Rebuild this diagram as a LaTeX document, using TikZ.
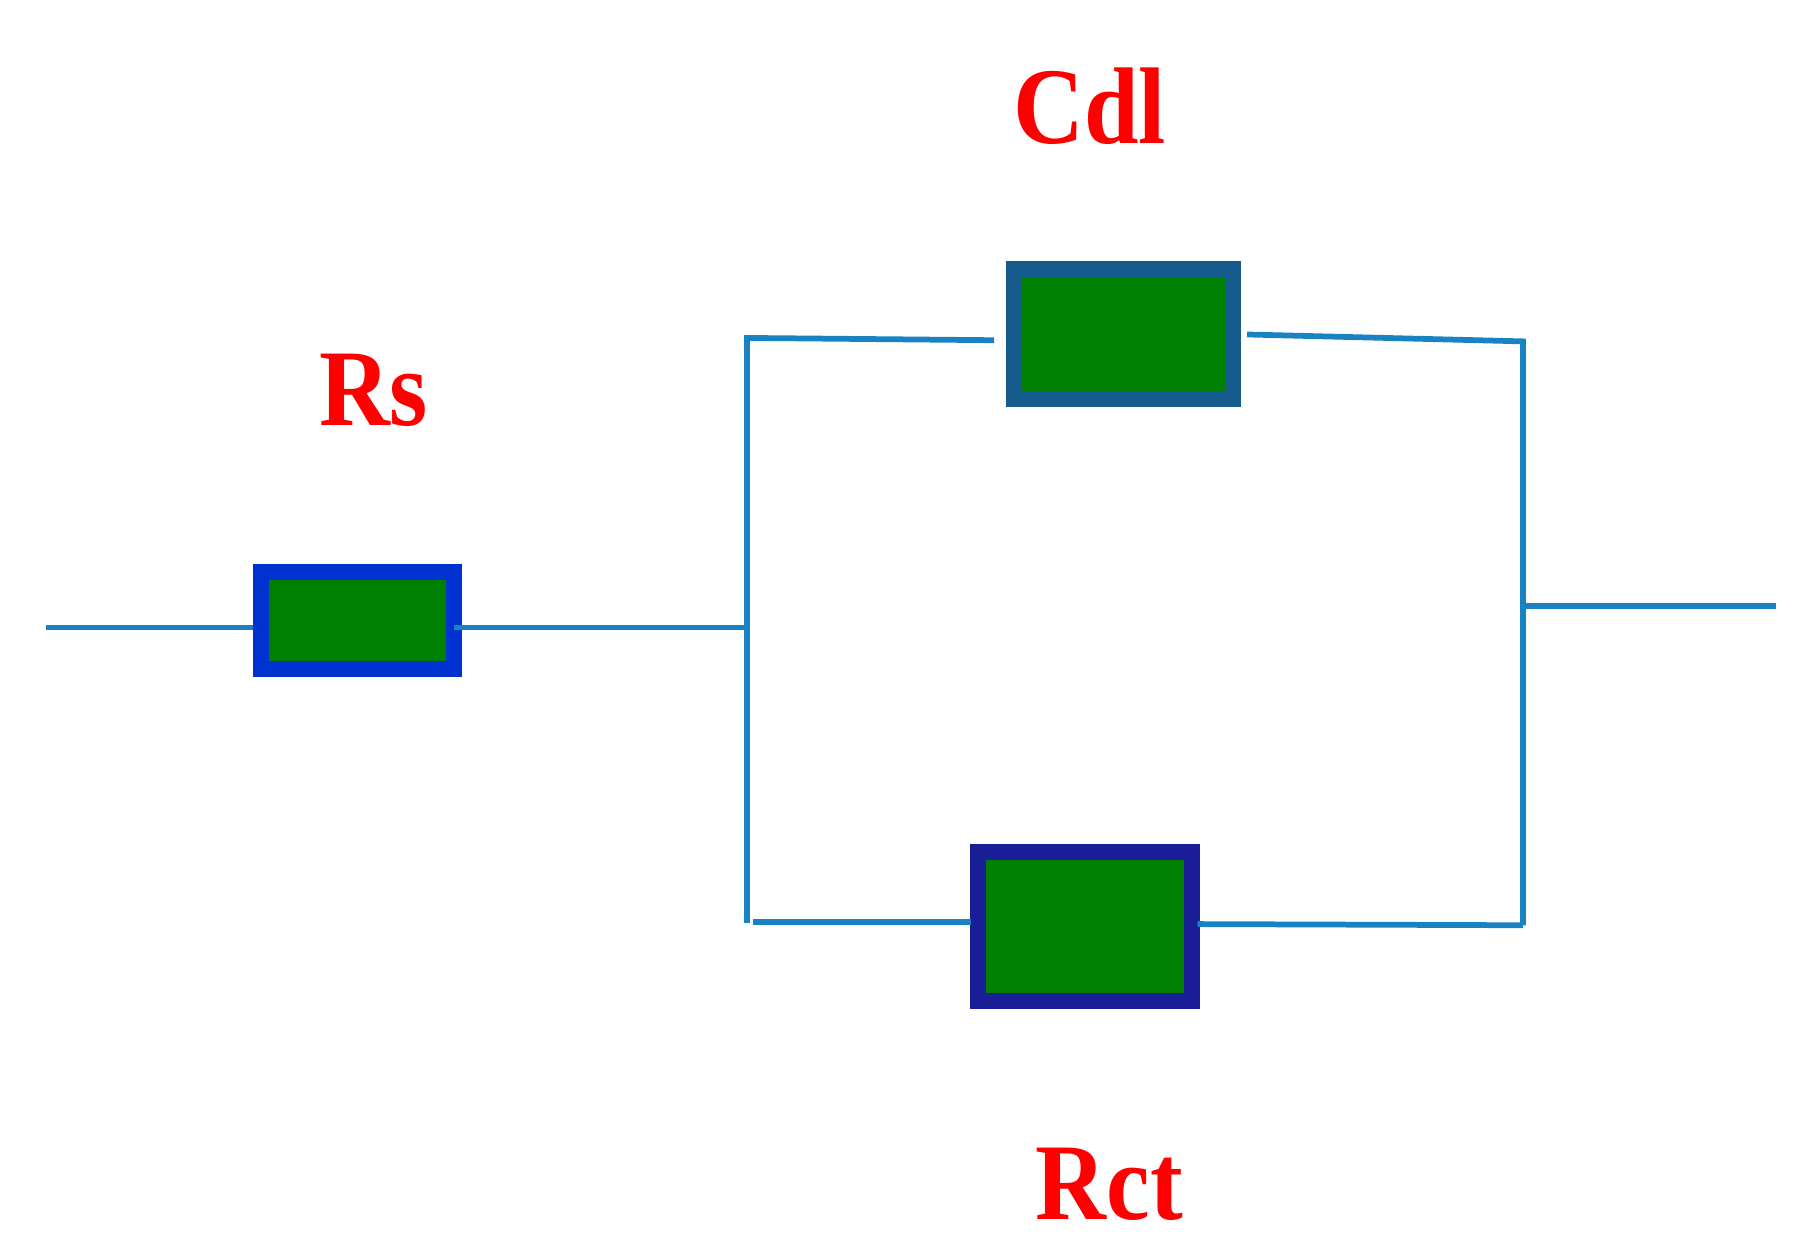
\documentclass[tikz,border=0pt]{standalone}
\usepackage{fontspec}
\setmainfont{Liberation Serif}
\begin{document}
\begin{tikzpicture}[x=0.02cm,y=-0.02cm,
  wire/.style={draw={rgb,255:red,25;green,130;blue,195},line width=0.1cm},
  comp/.style={rectangle,fill={rgb,255:red,0;green,128;blue,0},line width=0.28cm,inner sep=0pt},
  lbl/.style={text={rgb,255:red,255;green,0;blue,0},font=\bfseries\fontsize{54}{54}\selectfont,xscale=0.9}]
\useasboundingbox (0,0) rectangle (1560,1090);
\node[comp,draw={rgb,255:red,0;green,50;blue,210},minimum width=3.36cm,minimum height=1.68cm] (rs) at (311,540) {};
\node[comp,draw={rgb,255:red,20;green,90;blue,140},minimum width=3.82cm,minimum height=2.26cm] (cdl) at (977.5,290.5) {};
\node[comp,draw={rgb,255:red,25;green,30;blue,150},minimum width=3.72cm,minimum height=2.6cm] (rct) at (944,806) {};
\node[lbl] (lcdl) at (948,92) {Cdl};
\node[lbl] (lrs) at (325,340) {Rs};
\node[lbl] (lrct) at (965,1030) {Rct};
\coordinate (in) at (40,546);
\coordinate (out) at (1545,527);
\coordinate (a) at (650,546);
\coordinate (lt) at (650,294);
\coordinate (lb) at (650,803);
\coordinate (rt) at (1325,297);
\coordinate (rb) at (1325,805);
\coordinate (rm) at (1325,527);
\draw[wire] (in) -- (220,546);
\draw[wire] (395,546) -- (a);
\draw[wire] (lb) -- (lt) -- (865,296);
\draw[wire] (1085,291) -- (rt) -- (rb);
\draw[wire] (655,802) -- (845,802);
\draw[wire] (1042,804) -- (rb);
\draw[wire] (rm) -- (out);
\end{tikzpicture}
\end{document}
